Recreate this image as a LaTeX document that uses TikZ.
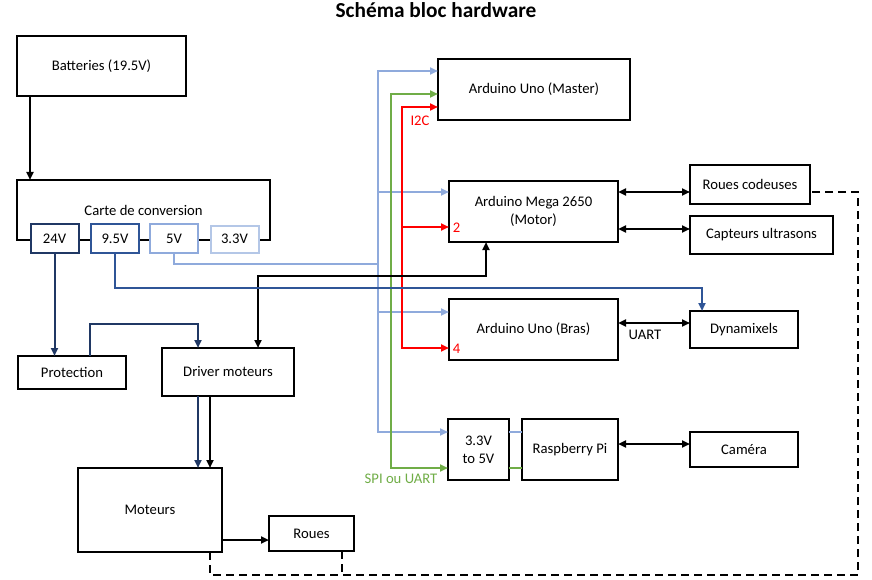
\documentclass[tikz,border=0pt]{standalone}
\usepackage{fontspec}
\setmainfont{Carlito}
\usepackage{tikz}
\usetikzlibrary{arrows.meta,positioning,calc}

\definecolor{bleufonce}{HTML}{203864}
\definecolor{bleumoyen}{HTML}{2F5597}
\definecolor{bleuclair}{HTML}{8FAADC}
\definecolor{bleupale}{HTML}{B4C7E7}
\definecolor{vert}{HTML}{70AD47}

\tikzset{
  bloc/.style={draw, line width=2.2pt, fill=white, outer sep=0pt, align=center, inner sep=2pt},
  voltbox/.style={draw, line width=2pt, fill=white, outer sep=0pt, minimum width=48pt, minimum height=29pt, inner sep=1pt},
  fil/.style={line width=2pt},
  pointille/.style={line width=2pt, dash pattern=on 8pt off 5pt},
}

\begin{document}
\begin{tikzpicture}[x=1pt, y=-1pt, >={Triangle[length=8pt,width=7pt]}, font=\fontsize{14.67}{17.6}\selectfont]

\useasboundingbox (0,0) rectangle (872,580);

% titre
\node[font=\bfseries\fontsize{21.33}{25}\selectfont] (titre) at (436,10) {Schéma bloc hardware};

% alimentation
\node[bloc, minimum width=169pt, minimum height=60pt] (batt) at (101.5,66) {Batteries (19.5V)};
\node[bloc, minimum width=253pt, minimum height=60pt] (carte) at (143.5,210) {Carte de conversion};
\node[voltbox, draw=bleufonce] (v24) at (54.5,238.5) {24V};
\node[voltbox, draw=bleumoyen] (v95) at (115,238.5) {9.5V};
\node[voltbox, draw=bleuclair] (v5) at (174,238.5) {5V};
\node[voltbox, draw=bleupale, minimum height=27pt] (v33) at (234.5,239) {3.3V};

% partie moteurs
\node[bloc, minimum width=108pt, minimum height=33pt] (prot) at (72,372.5) {Protection};
\node[bloc, minimum width=132pt, minimum height=48pt] (driver) at (228,372) {Driver moteurs};
\node[bloc, minimum width=144pt, minimum height=84pt] (mot) at (150,510) {Moteurs};
\node[bloc, minimum width=85pt, minimum height=35pt] (roues) at (311.5,533.5) {Roues};

% cartes
\node[bloc, minimum width=192pt, minimum height=61pt] (master) at (534,89.5) {Arduino Uno (Master)};
\node[bloc, minimum width=169pt, minimum height=61pt] (mega) at (533.5,211.5) {Arduino Mega 2650\\(Motor)};
\node[bloc, minimum width=169pt, minimum height=61pt] (bras) at (533.5,329.5) {Arduino Uno (Bras)};
\node[bloc, minimum width=61pt, minimum height=61pt] (conv) at (478.5,449.5) {3.3V\\to 5V};
\node[bloc, minimum width=96pt, minimum height=61pt] (rpi) at (570,449.5) {Raspberry Pi};

% peripheriques
\node[bloc, minimum width=120pt, minimum height=39pt] (codeuses) at (750,184.5) {Roues codeuses};
\node[bloc, minimum width=143pt, minimum height=38pt] (ultra) at (761.5,235) {Capteurs ultrasons};
\node[bloc, minimum width=108pt, minimum height=37pt] (dyna) at (744,329.5) {Dynamixels};
\node[bloc, minimum width=108pt, minimum height=35pt] (cam) at (744,449.5) {Caméra};

% points de passage
\coordinate (lbjonc) at (378,264);
\coordinate (lbhaut) at (378,71);
\coordinate (lbmega) at (378,192);
\coordinate (lbbras) at (378,312);
\coordinate (lbbas) at (378,432);
\coordinate (ghaut) at (391,94);
\coordinate (gbas) at (391,468);
\coordinate (rhaut) at (402,107);
\coordinate (r2) at (402,227);
\coordinate (r4) at (402,348);
\coordinate (coude95) at (702,288);
\coordinate (kcoude) at (258,276);
\coordinate (pcoude) at (198,324);
\coordinate (dbg) at (210,575);
\coordinate (dbd) at (858,575);
\coordinate (dhd) at (858,192);

% bus de donnees
\draw[fil, bleuclair] (v5.south) |- (lbjonc);
\draw[fil, bleuclair, <->] (master.west |- lbhaut) -- (lbhaut) -- (lbbas) -- (conv.west |- lbbas);
\draw[fil, bleuclair, ->] (lbmega) -- (mega.west |- lbmega);
\draw[fil, bleuclair, ->] (lbbras) -- (bras.west |- lbbras);
\draw[fil, vert, <->] (master.west |- ghaut) -- (ghaut) -- (gbas) -- (conv.west |- gbas);
\draw[fil, red, <->] (master.west |- rhaut) -- (rhaut) -- (r4) -- (bras.west |- r4);
\draw[fil, red, ->] (r2) -- (mega.west |- r2);
\draw[fil, bleuclair] ([yshift=17.5pt]conv.east) -- ([yshift=17.5pt]conv.east -| rpi.west);
\draw[fil, vert] ([yshift=-18.5pt]conv.east) -- ([yshift=-18.5pt]conv.east -| rpi.west);

% alimentation
\draw[fil, ->] ([xshift=13pt]batt.south west) -- ([xshift=13pt]carte.north west);
\draw[fil, bleufonce, ->] (v24.south) -- (v24.south |- prot.north);
\draw[fil, bleufonce, ->] ([xshift=18pt]prot.north) |- (pcoude) -- ([xshift=-30pt]driver.north);
\draw[fil, <->] ([xshift=-47.5pt]mega.south) |- (kcoude) -- ([xshift=30pt]driver.north);
\draw[fil, bleumoyen, ->] (v95.south) |- (coude95) -- ([xshift=-42pt]dyna.north);
\draw[fil, bleufonce, ->] ([xshift=-30pt]driver.south) -- ([xshift=-30pt]driver.south |- mot.north);
\draw[fil, ->] ([xshift=-18pt]driver.south) -- ([xshift=-18pt]driver.south |- mot.north);
\draw[fil, ->] ([yshift=-30pt]mot.east) -- ([yshift=-30pt]mot.east -| roues.west);

% liaisons peripheriques
\draw[fil, <->] ([yshift=19.5pt]mega.east) -- ([yshift=19.5pt]mega.east -| codeuses.west);
\draw[fil, <->] ([yshift=-17.5pt]mega.east) -- ([yshift=-17.5pt]mega.east -| ultra.west);
\draw[fil, <->] ([yshift=6.5pt]bras.east) -- ([yshift=6.5pt]bras.east -| dyna.west);
\draw[fil, <->] ([yshift=5.5pt]rpi.east) -- ([yshift=5.5pt]rpi.east -| cam.west);

% retour roues codeuses
\draw[pointille] ([xshift=60pt]mot.south) -- (dbg) -- (dbd) -- (dhd) -- (codeuses.east |- dhd);
\draw[pointille] ([xshift=30.5pt]roues.south) -- ([xshift=30.5pt]roues.south |- dbg);

% texte
\node[text=red] (i2c) at (420,121) {I2C};
\node[text=red] (p2) at (456.5,228) {2};
\node[text=red] (p4) at (456.5,349) {4};
\node[text=vert] (spi) at (401,479) {SPI ou UART};
\node (uart) at (645,335) {UART};

\end{tikzpicture}
\end{document}
